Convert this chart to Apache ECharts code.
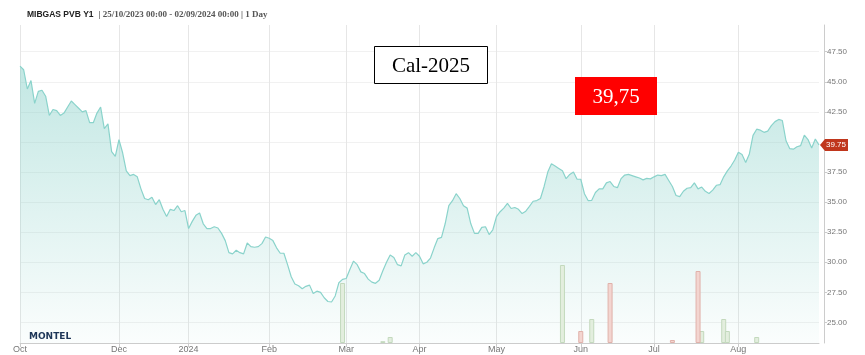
<!DOCTYPE html>
<html>
<head>
<meta charset="utf-8">
<script src="https://cdn.jsdelivr.net/npm/echarts@6/dist/echarts.min.js"></script>
<style>
html,body{margin:0;padding:0;background:#fff;}
#chart{width:865px;height:355px;}
</style>
</head>
<body>
<div id="chart"></div>
<script>
// Trading calendar (weekdays, excluding exchange holidays)
var startDate = '2023-10-25';
var endDate = '2024-09-02';
var holidays = ['2023-12-25', '2023-12-26', '2024-01-01', '2024-03-29', '2024-04-01'];

// Month tick labels on the x axis
var tickDates = ['2023-10-25', '2023-12-01', '2024-01-02', '2024-02-01', '2024-03-01', '2024-04-02', '2024-05-01', '2024-06-03', '2024-07-01', '2024-08-01'];
var tickLabels = ['Oct', 'Dec', '2024', 'Feb', 'Mar', 'Apr', 'May', 'Jun', 'Jul', 'Aug'];

// Y axis tick labels
var yTicks = [25, 27.5, 30, 32.5, 35, 37.5, 40, 42.5, 45, 47.5];

// MIBGAS PVB Y1 (Cal-2025) daily price, EUR/MWh
var prices = [
46.3,46.0,44.4,45.1,43.2,44.2,44.3,43.8,42.2,42.7,
42.6,42.2,42.4,42.9,43.4,43.1,42.8,42.5,42.6,41.6,
41.6,42.4,42.9,41.1,41.5,39.2,38.8,40.2,39.1,37.6,
37.2,37.3,37.1,36.1,35.3,35.2,35.4,34.8,35.2,34.4,
33.8,34.4,34.3,34.7,34.2,34.3,32.8,33.4,33.9,34.1,
33.2,32.8,32.8,32.95,32.85,32.4,31.8,30.8,30.7,31.0,
30.8,30.7,31.6,31.3,31.25,31.3,31.55,32.1,32.0,31.8,
31.2,30.75,30.75,29.8,28.8,28.2,28.05,27.8,28.0,28.1,
27.4,27.6,27.5,27.05,26.74,26.7,27.2,28.3,28.58,28.65,
29.4,30.1,29.8,29.2,29.06,28.6,28.35,28.25,28.5,29.3,
30.0,30.6,30.4,29.8,29.7,30.6,30.8,30.5,30.8,30.5,
29.87,30.0,30.35,31.2,31.97,32.07,33.2,34.7,35.12,35.7,
35.3,34.7,34.5,33.2,32.4,32.4,32.9,32.95,32.3,32.7,
33.8,34.2,34.5,34.9,34.47,34.55,34.4,34.05,34.25,34.65,
35.07,35.13,35.3,36.3,37.5,38.18,38.0,37.8,37.6,36.95,
37.3,37.5,36.9,36.9,35.7,35.13,35.15,35.8,36.1,36.1,
36.6,36.71,36.3,36.2,36.95,37.25,37.3,37.2,37.1,37.0,
36.85,36.97,36.93,37.1,37.25,37.2,37.3,36.8,36.3,35.55,
35.45,35.9,36.15,36.2,36.6,36.1,36.25,35.9,35.72,36.0,
36.4,36.45,37.1,37.6,38.0,38.5,39.15,38.95,38.3,39.0,
40.55,41.06,40.98,40.8,40.9,41.36,41.69,41.87,41.78,40.1,
39.45,39.4,39.6,39.7,40.57,40.2,39.5,40.25,39.75
];

// Traded volume bars
var volGreenDates = ['2024-02-29', '2024-03-15', '2024-03-19', '2024-05-27', '2024-06-06', '2024-07-18', '2024-07-26', '2024-07-29', '2024-08-08'];
var volGreen = [10, 0.3, 1, 13, 4, 2, 4, 2, 1];
var volRedDates = ['2024-06-03', '2024-06-13', '2024-07-08', '2024-07-17'];
var volRed = [2, 10, 0.5, 12];

// ---- build categories ----
function pad(n){ return (n < 10 ? '0' : '') + n; }
var dates = [];
(function(){
  var p = startDate.split('-'), q = endDate.split('-');
  var t = Date.UTC(+p[0], +p[1]-1, +p[2]);
  var tEnd = Date.UTC(+q[0], +q[1]-1, +q[2]);
  while (t <= tEnd) {
    var d = new Date(t);
    var wd = d.getUTCDay();
    var s = d.getUTCFullYear() + '-' + pad(d.getUTCMonth()+1) + '-' + pad(d.getUTCDate());
    if (wd !== 0 && wd !== 6 && holidays.indexOf(s) < 0) dates.push(s);
    t += 86400000;
  }
})();

function barData(ds, vs){
  var out = dates.map(function(){ return null; });
  ds.forEach(function(d, k){ var i = dates.indexOf(d); if (i >= 0) out[i] = vs[k]; });
  return out;
}

function isTick(idx, val){ return tickDates.indexOf(val) >= 0; }

var lastIdx = prices.length - 1;
var lastVal = prices[lastIdx];

var chart = echarts.init(document.getElementById('chart'), null, {renderer: 'canvas'});
chart.setOption({
  animation: false,
  backgroundColor: '#ffffff',
  textStyle: {fontFamily: 'Liberation Sans, Arial, sans-serif'},
  title: {
    left: 22, top: 1,
    text: '{b|MIBGAS PVB Y1} {s|| 25/10/2023 00:00 - 02/09/2024 00:00 | 1 Day}',
    textStyle: {
      rich: {
        b: {fontFamily: 'Liberation Sans, Arial, sans-serif', fontWeight: 'bold', fontSize: 8.5, color: '#222'},
        s: {fontFamily: 'Liberation Serif, Times New Roman, serif', fontSize: 9, color: '#555'}
      }
    }
  },
  grid: {left: 20, right: 46, top: 25, bottom: 12, containLabel: false},
  xAxis: {
    type: 'category',
    data: dates,
    boundaryGap: false,
    axisLine: {show: true, lineStyle: {color: '#cccccc', width: 1}},
    axisTick: {show: true, interval: isTick, length: 4, lineStyle: {color: '#cccccc'}},
    axisLabel: {
      interval: isTick,
      margin: 2,
      fontSize: 9,
      color: '#777',
      formatter: function(v){ var k = tickDates.indexOf(v); return k >= 0 ? tickLabels[k] : ''; }
    },
    splitLine: {show: true, interval: isTick, lineStyle: {color: '#e6e6e6', width: 1}}
  },
  yAxis: [{
    type: 'value',
    position: 'right',
    offset: 5,
    min: 23.29,
    max: 49.72,
    axisLine: {show: true, lineStyle: {color: '#cccccc', width: 1}},
    axisTick: {show: true, customValues: yTicks, length: 3, lineStyle: {color: '#cccccc'}},
    axisLabel: {
      customValues: yTicks,
      margin: 3,
      fontSize: 8,
      color: '#777',
      formatter: function(v){ return v.toFixed(2); }
    },
    splitLine: {show: true, lineStyle: {color: '#f1f1f1', width: 1}}
  }, {
    type: 'value',
    show: false,
    min: 0,
    max: 53,
    splitLine: {show: false}
  }],
  series: [{
    type: 'line',
    name: 'MIBGAS PVB Y1',
    data: prices,
    z: 2,
    showSymbol: false,
    symbol: 'none',
    lineStyle: {color: '#8ad3cb', width: 1.2},
    areaStyle: {
      color: {
        type: 'linear', x: 0, y: 0, x2: 0, y2: 1,
        colorStops: [
          {offset: 0, color: 'rgba(135,208,200,0.72)'},
          {offset: 1, color: 'rgba(135,208,200,0.05)'}
        ]
      }
    },
    markPoint: {
      silent: true,
      symbol: 'path://M0,6 L5,0 L28,0 L28,12 L5,12 Z',
      symbolSize: [28, 12],
      symbolOffset: [15, 0],
      itemStyle: {color: '#c0361c'},
      label: {show: true, color: '#fff', fontSize: 8, offset: [2, 0], formatter: function(p){ return p.value.toFixed(2); }},
      data: [{coord: [lastIdx, lastVal], value: lastVal}]
    }
  }, {
    type: 'bar',
    name: 'Volume green',
    yAxisIndex: 1,
    data: barData(volGreenDates, volGreen),
    barWidth: 5,
    barGap: '-100%',
    z: 3,
    itemStyle: {color: '#e3eede', borderColor: '#c3d9bd', borderWidth: 1}
  }, {
    type: 'bar',
    name: 'Volume red',
    yAxisIndex: 1,
    data: barData(volRedDates, volRed),
    barWidth: 5,
    barGap: '-100%',
    z: 3,
    itemStyle: {color: '#f3d5d0', borderColor: '#e0b1aa', borderWidth: 1}
  }],
  graphic: [
    {type: 'rect', z: 100, shape: {x: 374.5, y: 46.5, width: 113, height: 37}, style: {fill: '#fff', stroke: '#000', lineWidth: 1}},
    {type: 'text', z: 101, x: 431, y: 66, style: {text: 'Cal-2025', fill: '#000', font: '21px "Liberation Serif", serif', textAlign: 'center', textVerticalAlign: 'middle'}},
    {type: 'rect', z: 100, shape: {x: 575, y: 77, width: 82, height: 38}, style: {fill: '#ff0000'}},
    {type: 'text', z: 101, x: 616, y: 97, style: {text: '39,75', fill: '#fff', font: '21px "Liberation Serif", serif', textAlign: 'center', textVerticalAlign: 'middle'}},
    {type: 'text', z: 100, x: 29, y: 332, style: {text: 'MONTEL', fill: '#1d3557', font: 'bold 9px "DejaVu Sans", Verdana, sans-serif'}}
  ]
});
</script>
</body>
</html>
